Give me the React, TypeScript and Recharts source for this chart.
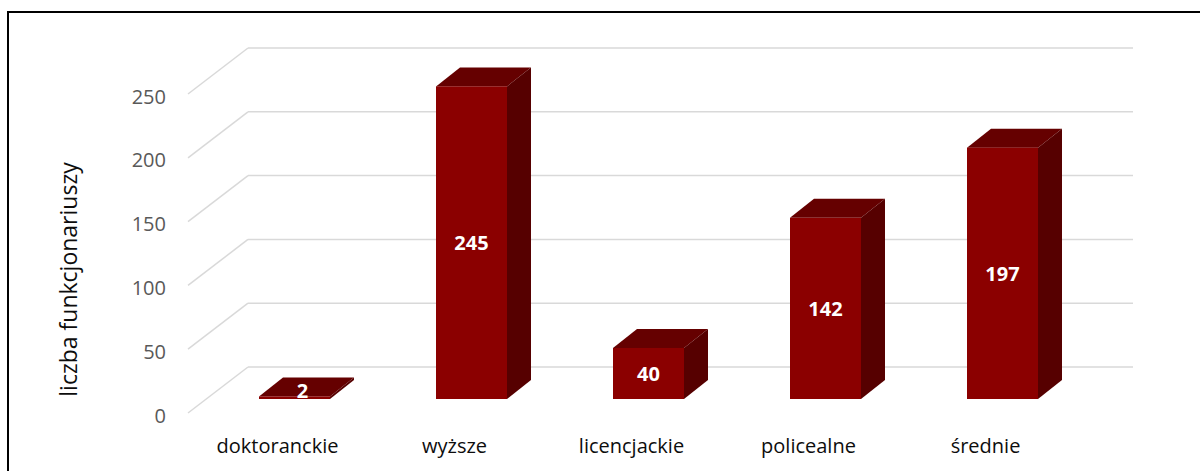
import React from "react";
import { BarChart, Bar, XAxis, YAxis, CartesianGrid, LabelList } from "recharts";

const categories = ["doktoranckie", "wyższe", "licencjackie", "policealne", "średnie"];
const counts = [2, 245, 40, 142, 197];
const yTicks = [0, 50, 100, 150, 200, 250];
const yTitle = "liczba funkcjonariuszy";

const data = categories.map((name, i) => ({ name, value: counts[i] }));

// fake 3D offsets (px)
const DEPTH_X = 24;
const DEPTH_Y = 19;
const WALL_X = 42;
const WALL_Y = 32;
const FLOOR_X = 18;
const FLOOR_Y = 14;

const FONT = '"Open Sans", sans-serif';
const GRID = "#D9D9D9";

function Box3D(props: any) {
  const { x, y, width, height } = props;
  const r = x + width;
  const b = y + height;
  return (
    <g>
      <polygon
        points={`${x},${y} ${x + DEPTH_X},${y - DEPTH_Y} ${r + DEPTH_X},${y - DEPTH_Y} ${r},${y}`}
        fill="#650000"
      />
      <polygon
        points={`${r},${y} ${r + DEPTH_X},${y - DEPTH_Y} ${r + DEPTH_X},${b - DEPTH_Y} ${r},${b}`}
        fill="#560000"
      />
      <rect x={x} y={y} width={width} height={height} fill="#8B0000" />
    </g>
  );
}

function ValueLabel(props: any) {
  const { x, y, width, height, value } = props;
  const flat = height < 10;
  return (
    <text
      x={x + width / 2 + (flat ? 8 : 0)}
      y={y + height / 2 - (flat ? 7 : 0)}
      textAnchor="middle"
      dominantBaseline="central"
      fill="#fff"
      fontWeight={700}
      fontSize={20}
      fontFamily={FONT}
    >
      {value}
    </text>
  );
}

function GridLine(props: any) {
  const { x1, x2, y1 } = props;
  return (
    <g>
      <line
        x1={x1 - FLOOR_X}
        y1={y1 + FLOOR_Y}
        x2={x1 + WALL_X}
        y2={y1 - WALL_Y}
        stroke={GRID}
        strokeWidth={1.5}
      />
      <line
        x1={x1 + WALL_X}
        y1={y1 - WALL_Y}
        x2={x2 + WALL_X}
        y2={y1 - WALL_Y}
        stroke={GRID}
        strokeWidth={1.5}
      />
    </g>
  );
}

function YTick(props: any) {
  const { x, y, payload } = props;
  return (
    <text
      x={x}
      y={y + FLOOR_Y + 2}
      textAnchor="end"
      dominantBaseline="central"
      fill="#595959"
      fontSize={20}
      fontFamily={FONT}
    >
      {payload.value}
    </text>
  );
}

function XTick(props: any) {
  const { x, y, payload } = props;
  return (
    <text x={x - 17} y={y + 54} textAnchor="middle" fill="#0d0d0d" fontSize={20} fontFamily={FONT}>
      {payload.value}
    </text>
  );
}

function TitleLabel(props: any) {
  const vb = props.viewBox || {};
  const cx = vb.x + 68;
  const cy = vb.y + vb.height / 2 + 40;
  return (
    <text
      x={cx}
      y={cy}
      transform={`rotate(-90 ${cx} ${cy})`}
      textAnchor="middle"
      dominantBaseline="central"
      fill="#0d0d0d"
      fontSize={23}
      fontFamily={FONT}
    >
      {yTitle}
    </text>
  );
}

export default function App() {
  return (
    <div
      style={{
        position: "fixed",
        left: 0,
        top: 0,
        width: 1200,
        height: 471,
        background: "#fff",
        overflow: "hidden",
      }}
    >
      <div
        style={{
          position: "absolute",
          left: 7,
          top: 11,
          width: 1300,
          height: 600,
          borderLeft: "2px solid #000",
          borderTop: "2px solid #000",
        }}
      />
      <div style={{ position: "absolute", left: 0, top: 0 }}>
        <BarChart
          width={1200}
          height={471}
          data={data}
          margin={{ top: 80, right: 109, bottom: 0, left: 0 }}
          barSize={71}
        >
          <CartesianGrid vertical={false} horizontal={GridLine} />
          <XAxis
            dataKey="name"
            height={72}
            axisLine={false}
            tickLine={false}
            tickSize={0}
            tickMargin={0}
            tick={<XTick />}
            interval={0}
          />
          <YAxis
            width={206}
            domain={[0, 250]}
            ticks={yTicks}
            axisLine={false}
            tickLine={false}
            tickSize={0}
            tickMargin={40}
            tick={<YTick />}
            label={<TitleLabel />}
          />
          <Bar dataKey="value" shape={<Box3D />} isAnimationActive={false}>
            <LabelList dataKey="value" content={<ValueLabel />} />
          </Bar>
        </BarChart>
      </div>
    </div>
  );
}
